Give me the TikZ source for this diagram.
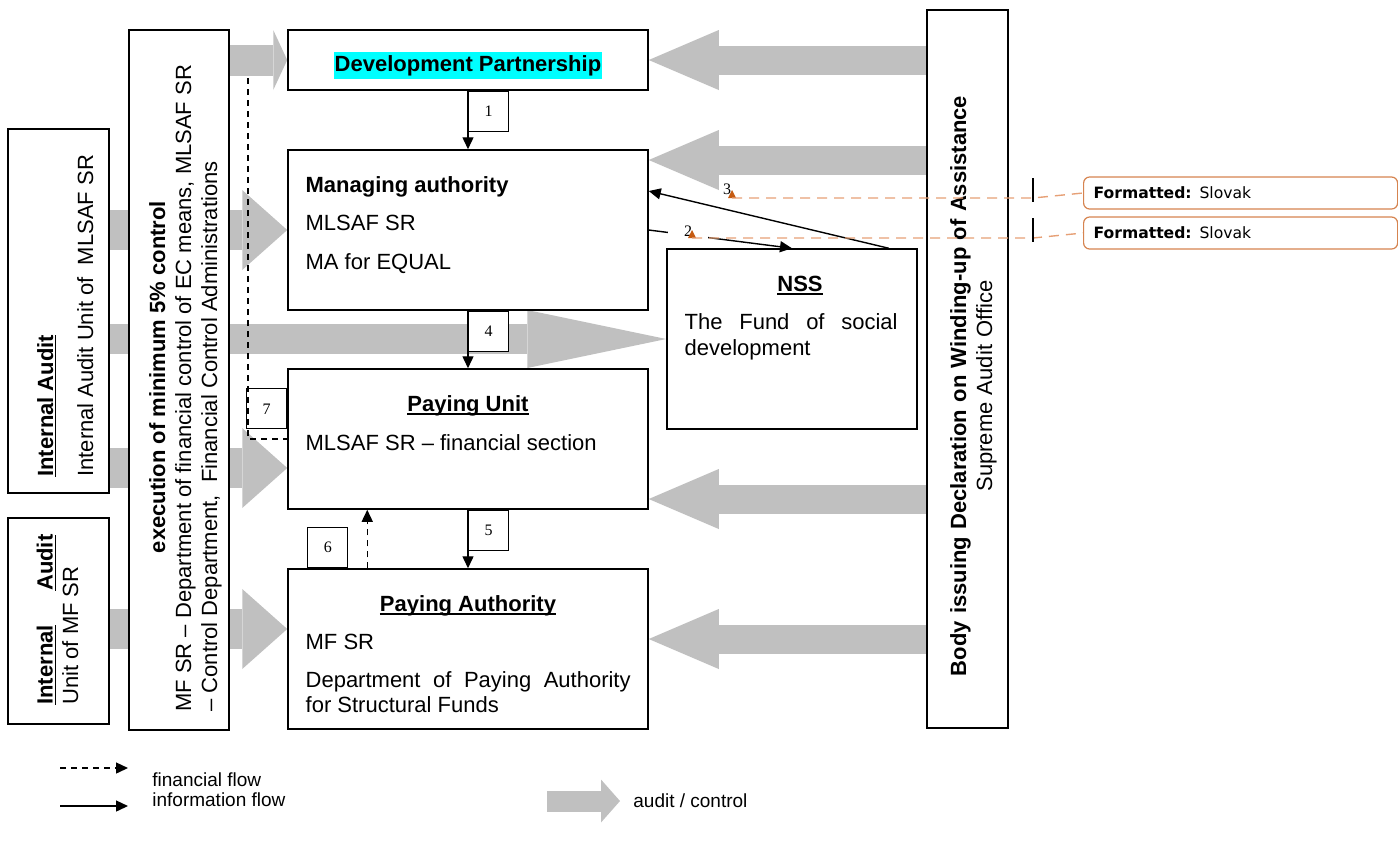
\documentclass[tikz,border=0pt]{standalone}
\usepackage{fontspec}
\setmainfont{Liberation Sans}
\newfontfamily\numfont{Liberation Serif}
\newfontfamily\notefont{DejaVu Sans}
\usepackage{tikz}
\usetikzlibrary{positioning, calc, arrows.meta, backgrounds}
\usepackage{color}
\definecolor{auditgrey}{RGB}{192, 192, 192}
\definecolor{marker}{RGB}{0, 255, 255}
\definecolor{noteline}{RGB}{230, 160, 118}
\definecolor{noteborder}{RGB}{214, 132, 80}
\definecolor{notemark}{RGB}{197, 90, 17}
\newcommand{\ulbox}[1]{\setbox0\hbox{#1}\rlap{\rule[-1.7pt]{\wd0}{0.8pt}}\box0}

\begin{document}
\begin{tikzpicture}[x=0.5pt, y=-0.5pt]
    \fontsize{11}{12.65}\selectfont
    \tikzstyle{block} = [draw, rectangle, fill=white, line width=0.75pt, inner sep=0pt]
    \tikzstyle{numbox} = [draw, rectangle, fill=white, line width=0.6pt, minimum width=20pt, minimum height=20pt, inner sep=0pt, font=\numfont\fontsize{8}{9}\selectfont]
    \tikzstyle{txt} = [inner sep=0pt, align=left]
    \tikzstyle{infoflow} = [line width=0.7pt, -{Triangle[length=6pt, width=5.5pt]}]
    \tikzstyle{finflow} = [line width=0.7pt, dash pattern=on 3pt off 2.5pt, -{Triangle[length=6pt, width=5.5pt]}]
    \tikzstyle{finline} = [line width=0.6pt, dash pattern=on 3pt off 2.5pt]
    \tikzstyle{bodyaudit} = [draw=auditgrey, line width=14.5pt, -{Triangle[length=35pt, width=30pt, line width=0pt]}]
    \tikzstyle{ctrlaudit} = [draw=auditgrey, line width=20pt, -{Triangle[length=22.5pt, width=40pt, line width=0pt]}]
    \tikzstyle{stubaudit} = [draw=auditgrey, line width=15.5pt, -{Triangle[length=7pt, width=30pt, line width=0pt]}]
    \tikzstyle{longaudit} = [draw=auditgrey, line width=15pt, -{Triangle[length=69.5pt, width=29pt, line width=0pt]}]
    \tikzstyle{keyaudit} = [draw=auditgrey, line width=10.5pt, -{Triangle[length=9.5pt, width=21.5pt, line width=0pt]}]
    \tikzstyle{notebox} = [draw=noteborder, rounded corners=3pt, line width=0.6pt, fill=white, text width=147pt, inner xsep=5pt, inner ysep=0pt, minimum height=16pt, align=left, font=\notefont\fontsize{7.8}{9}\selectfont]
    \tikzstyle{notedash} = [draw=noteline, line width=0.7pt, dash pattern=on 5pt off 3.5pt]
    \tikzstyle{keytext} = [anchor=west, inner sep=0pt, font=\fontsize{9.5}{11}\selectfont]

    \useasboundingbox (0,0) rectangle (1398,843);

    % central column
    \node (dp) [block, minimum width=180pt, minimum height=30pt] at (468,60) {};
    \node (ma) [block, minimum width=180pt, minimum height=80pt, below=29.25pt of dp] {};
    \node (pu) [block, minimum width=180pt, minimum height=70pt, below=28.75pt of ma] {};
    \node (pa) [block, minimum width=180pt, minimum height=80pt, below=29.25pt of pu] {};
    \node (nss) [block, minimum width=125pt, minimum height=90pt] at (792,339) {};

    % control columns
    \node (exec) [block, minimum width=50pt, minimum height=350pt] at (179,380) {};
    \node (iaml) [block, minimum width=50.5pt, minimum height=182pt] at (58.5,311) {};
    \node (iamf) [block, minimum width=50.5pt, minimum height=103pt] at (58.5,621) {};
    \node (sao) [block, minimum width=40.5pt, minimum height=359pt] at (967.5,369) {};

    % box texts (multi-line nodes sit on their last baseline)
    \node (dp-t) [fill=marker, inner xsep=0.5pt, inner ysep=1.7pt, font=\bfseries] at ([yshift=-2.75pt]dp.center) {Development Partnership};
    \node (ma-t) [txt, anchor=base west, font=\fontsize{11}{19.25}\selectfont] at ([shift={(9pt,-60pt)}]ma.north west) {\textbf{Managing authority}\\MLSAF SR\\MA for EQUAL};
    \node (pu-t) [anchor=base, inner sep=0pt, font=\bfseries] at ([yshift=-21.5pt]pu.north) {\ulbox{Paying Unit}};
    \node (pu-d) [txt, anchor=base west] at ([shift={(9pt,-41pt)}]pu.north west) {MLSAF SR -- financial section};
    \node (pa-t) [anchor=base, inner sep=0pt, font=\bfseries] at ([yshift=-21.5pt]pa.north) {\ulbox{Paying Authority}};
    \node (pa-d) [txt, anchor=base west, font=\fontsize{11}{12.5}\selectfont] at ([shift={(9pt,-72pt)}]pa.north west) {MF SR\\[6.5pt]\makebox[162.5pt][s]{Department of Paying Authority}\\for Structural Funds};
    \node (nss-t) [anchor=base, inner sep=0pt, font=\bfseries] at ([shift={(4pt,-21.5pt)}]nss.north) {\ulbox{NSS}};
    \node (nss-d) [txt, anchor=base west, font=\fontsize{11}{13}\selectfont] at ([shift={(9pt,-53.5pt)}]nss.north west) {\makebox[106.5pt][s]{The Fund of social}\\development};

    % rotated texts
    \node (iaml-t) [txt, rotate=90, anchor=base west] at (93,477) {\textbf{\ulbox{Internal Audit}}\\[7.35pt]Internal Audit Unit of \ MLSAF SR};
    \node (iamf-t) [txt, rotate=90, anchor=base west] at (78,705) {\textbf{\makebox[85pt][l]{\ulbox{Internal}\hfill\ulbox{Audit}}}\\Unit of MF SR};
    \node (exec-t) [rotate=90, anchor=base, inner sep=0pt, font=\bfseries] at (165,377) {execution of minimum 5\% control};
    \node (exec-d) [txt, rotate=90, anchor=base west, font=\fontsize{11}{13}\selectfont] at (217,712) {MF SR -- Department of financial control of EC means, MLSAF SR\\-- Control Department,\ \ Financial Control Administrations};
    \node (sao-t) [rotate=90, anchor=base, inner sep=0pt, text width=300pt, align=center, font=\fontsize{11}{13}\selectfont] at (966,386) {\textbf{Body issuing Declaration on Winding-up of Assistance}\\Supreme Audit Office};

    % numbered tags
    \node (n1) [numbox, anchor=north west] at (dp.south) {1};
    \node (n4) [numbox, anchor=north west] at (ma.south) {4};
    \node (n5) [numbox, anchor=north west] at (pu.south) {5};
    \node (n6) [numbox, anchor=south west] at ([xshift=10pt]pa.north west) {6};
    \node (n7) [numbox, anchor=north east] at ([yshift=-10pt]pu.north west) {7};

    % audit / control arrows
    \coordinate (pu-in) at ([yshift=-14.5pt]pu.west);
    \coordinate (pa-in) at ([yshift=10pt]pa.west);
    \coordinate (ma-out) at ([yshift=35pt]ma.east);
    \coordinate (pu-out) at ([yshift=-30pt]pu.east);
    \coordinate (pa-out) at ([yshift=5pt]pa.east);
    \begin{scope}[on background layer]
        \draw [stubaudit] (exec.east |- dp.west) -- (dp.west);
        \draw [ctrlaudit] (iaml.east |- ma.west) -- (ma.west);
        \draw [longaudit] (iaml.east |- nss.west) -- (nss.west);
        \draw [ctrlaudit] (iaml.east |- pu-in) -- (pu-in);
        \draw [ctrlaudit] (iamf.east |- pa-in) -- (pa-in);
        \draw [bodyaudit] (sao.west |- dp.east) -- (dp.east);
        \draw [bodyaudit] (sao.west |- ma-out) -- (ma-out);
        \draw [bodyaudit] (sao.west |- pu-out) -- (pu-out);
        \draw [bodyaudit] (sao.west |- pa-out) -- (pa-out);
    \end{scope}

    % flows
    \draw [infoflow] (dp.south) -- (ma.north);
    \draw [infoflow] (ma.south) -- (pu.north);
    \draw [infoflow] (pu.south) -- (pa.north);
    \draw [finflow] ([xshift=40pt]pa.north west) -- ([xshift=40pt]pu.south west);
    \coordinate (fin-top) at (248,78);
    \draw [finline] (fin-top) |- (pu.west);
    \draw [infoflow] ([xshift=-14.5pt]nss.north east) -- ([yshift=19.5pt]ma.east);
    \draw [infoflow] (ma.east) -- (nss.north);

    % comment marks
    \node (c3) [inner sep=0pt, font=\numfont\fontsize{8}{9}\selectfont] at (727,189) {3};
    \node (c2) [fill=white, inner sep=0pt, minimum width=20pt, minimum height=14pt, font=\numfont\fontsize{8}{9}\selectfont] at (688,231) {2};
    \coordinate (m3) at (732,198);
    \coordinate (m2) at (692,238);
    \fill [notemark] ($(m3)+(-4,0)$) -- ($(m3)+(4,0)$) -- ($(m3)+(0,-8)$) -- cycle;
    \fill [notemark] ($(m2)+(-4,0)$) -- ($(m2)+(4,0)$) -- ($(m2)+(0,-8)$) -- cycle;
    \node (cm3) [notebox, anchor=west] at (1083,193) {\textbf{Formatted:} Slovak};
    \node (cm2) [notebox, anchor=west] at (1083,233) {\textbf{Formatted:} Slovak};
    \coordinate (b3) at (1033,198);
    \coordinate (b2) at (1033,238);
    \draw [notedash] (m3) -- (b3) -- (cm3.west);
    \draw [notedash] (m2) -- (b2) -- (cm2.west);
    \draw [line width=0.8pt] ($(b3)+(0,-20)$) -- ($(b3)+(0,4)$);
    \draw [line width=0.8pt] ($(b2)+(0,-20)$) -- ($(b2)+(0,4)$);

    % legend
    \coordinate (key-fin-a) at (60,768);
    \coordinate (key-fin-b) at (128,768);
    \coordinate (key-inf-a) at (60,806);
    \coordinate (key-inf-b) at (128,806);
    \coordinate (key-aud-a) at (547,801);
    \coordinate (key-aud-b) at (620,801);
    \draw [finflow] (key-fin-a) -- (key-fin-b);
    \draw [infoflow] (key-inf-a) -- (key-inf-b);
    \draw [keyaudit] (key-aud-a) -- (key-aud-b);
    \node (key-fin) [keytext] at (152,780) {financial flow};
    \node (key-inf) [keytext] at (152,800) {information flow};
    \node (key-aud) [keytext] at (633,801) {audit / control};
\end{tikzpicture}
\end{document}
